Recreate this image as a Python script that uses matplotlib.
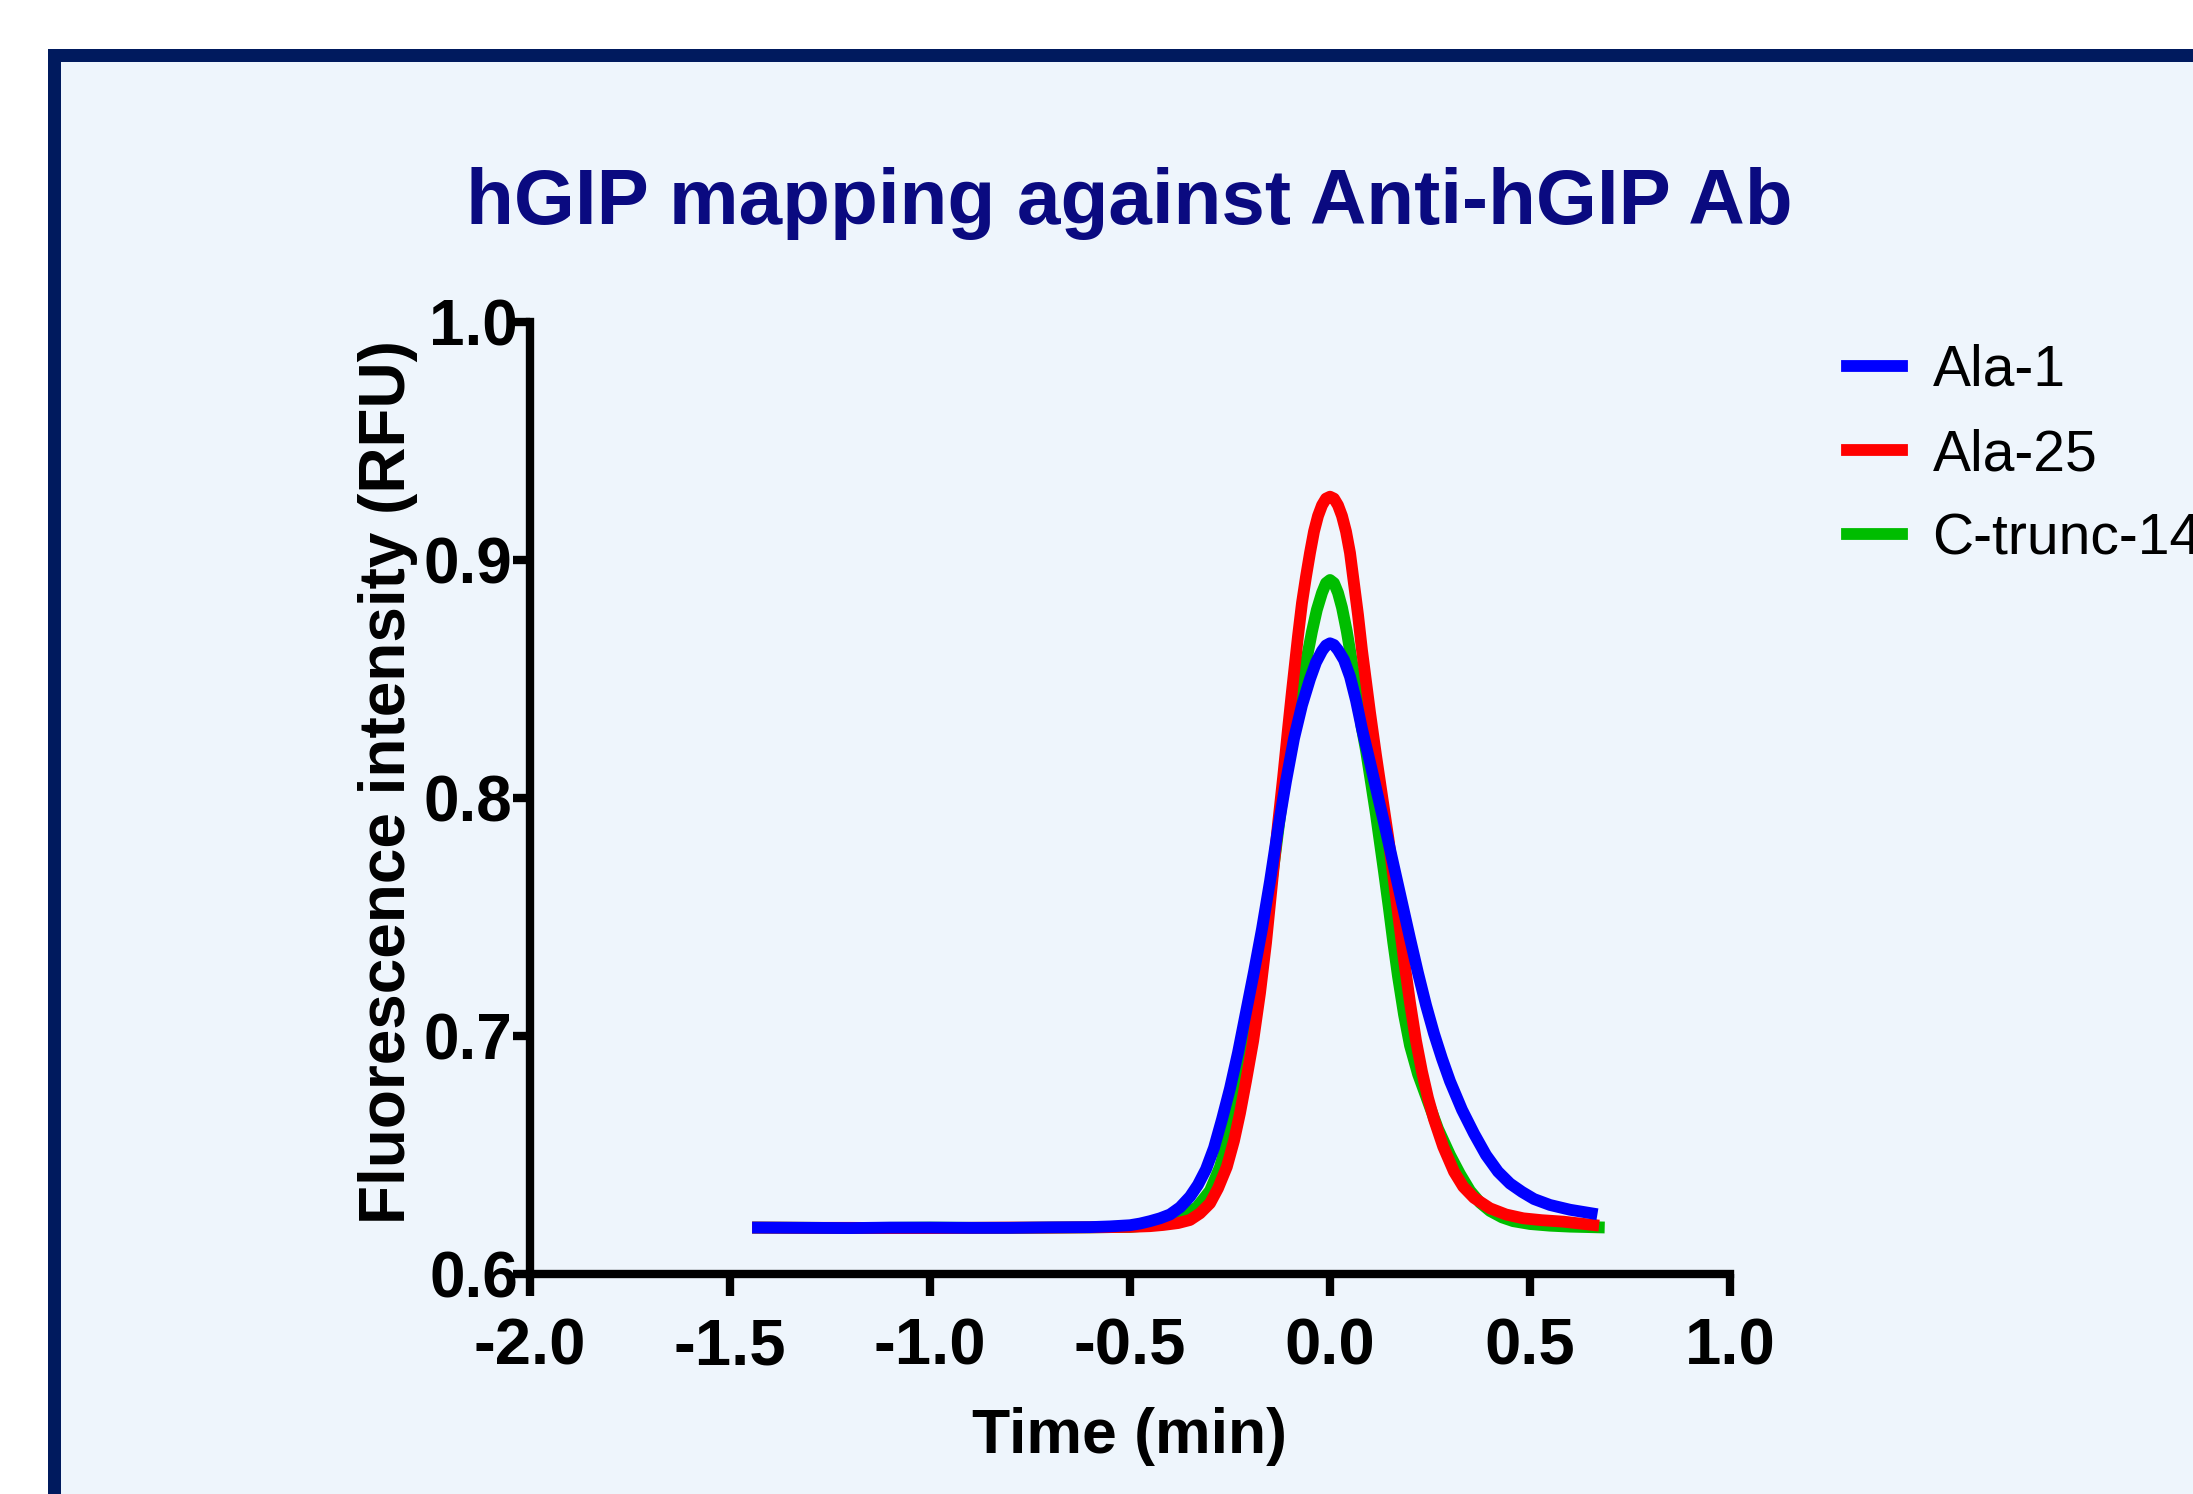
import matplotlib
matplotlib.use("Agg")
import matplotlib.pyplot as plt
import matplotlib.lines as mlines
from matplotlib.patches import Rectangle

plt.rcParams["font.family"] = ["Liberation Sans", "DejaVu Sans"]

# Data (time in min, fluorescence in RFU)
ala1_t = [-1.43, -1.3, -1.2, -1.1, -1.0, -0.9, -0.8, -0.7, -0.6, -0.55,
          -0.5, -0.475, -0.45, -0.425, -0.40, -0.375, -0.35, -0.33, -0.31, -0.29,
          -0.27, -0.25, -0.23, -0.21, -0.19, -0.17, -0.15, -0.13, -0.11, -0.09,
          -0.07, -0.05, -0.035, -0.02, -0.01, 0.0, 0.01, 0.02, 0.035, 0.05,
          0.065, 0.08, 0.10, 0.12, 0.14, 0.16, 0.18, 0.20, 0.22, 0.24,
          0.26, 0.28, 0.30, 0.33, 0.36, 0.39, 0.42, 0.45, 0.48, 0.51,
          0.55, 0.60, 0.654]
ala1_rfu = [0.6195, 0.6194, 0.6193, 0.6195, 0.6195, 0.6194, 0.6194, 0.6196, 0.6197, 0.6200,
            0.6205, 0.6212, 0.6222, 0.6234, 0.6250, 0.6280, 0.6325, 0.6375, 0.6440, 0.6530,
            0.6650, 0.6780, 0.6930, 0.7100, 0.7270, 0.7450, 0.7650, 0.7870, 0.8070, 0.8250,
            0.8390, 0.8500, 0.8570, 0.8618, 0.8641, 0.8650, 0.8643, 0.8622, 0.8580, 0.8510,
            0.8410, 0.8290, 0.8150, 0.8005, 0.7860, 0.7710, 0.7560, 0.7410, 0.7265, 0.7130,
            0.7010, 0.6905, 0.6810, 0.6690, 0.6590, 0.6500, 0.6430, 0.6380, 0.6345, 0.6315,
            0.6290, 0.6270, 0.6255]

ala25_t = [-1.43, -1.3, -1.2, -1.1, -1.0, -0.9, -0.8, -0.7, -0.6, -0.5,
           -0.45, -0.417, -0.38, -0.35, -0.325, -0.30, -0.28, -0.258, -0.24, -0.225,
           -0.21, -0.192, -0.175, -0.16, -0.142, -0.13, -0.117, -0.105, -0.095, -0.08,
           -0.07, -0.06, -0.05, -0.04, -0.03, -0.02, -0.01, 0.0, 0.01, 0.02,
           0.03, 0.04, 0.05, 0.06, 0.07, 0.08, 0.09, 0.10, 0.115, 0.13,
           0.146, 0.16, 0.172, 0.185, 0.20, 0.215, 0.23, 0.245, 0.26, 0.283,
           0.31, 0.333, 0.36, 0.40, 0.44, 0.483, 0.53, 0.583, 0.62, 0.658]
ala25_rfu = [0.6195, 0.6194, 0.6194, 0.6193, 0.6193, 0.6194, 0.6195, 0.6195, 0.6196, 0.6198,
             0.6201, 0.6206, 0.6214, 0.6227, 0.6255, 0.6297, 0.6360, 0.6450, 0.6560, 0.6676,
             0.6810, 0.6980, 0.7180, 0.7390, 0.7690, 0.7890, 0.8090, 0.8290, 0.8450, 0.8680,
             0.8820, 0.8930, 0.9030, 0.9120, 0.9185, 0.9230, 0.9258, 0.9266, 0.9258, 0.9230,
             0.9185, 0.9120, 0.9030, 0.8900, 0.8770, 0.8620, 0.8490, 0.8360, 0.8180, 0.8010,
             0.7830, 0.7650, 0.7490, 0.7320, 0.7140, 0.6980, 0.6850, 0.6740, 0.6650, 0.6535,
             0.6430, 0.6367, 0.6320, 0.6276, 0.6250, 0.6234, 0.6226, 0.6220, 0.6213, 0.6206]

ctrunc14_t = [-1.43, -1.3, -1.2, -1.1, -1.0, -0.9, -0.8, -0.7, -0.6, -0.5,
              -0.45, -0.40, -0.365, -0.333, -0.30, -0.275, -0.258, -0.242, -0.225, -0.21,
              -0.19, -0.167, -0.15, -0.135, -0.12, -0.105, -0.09, -0.075, -0.06, -0.045,
              -0.033, -0.02, -0.01, 0.0, 0.01, 0.02, 0.03, 0.042, 0.054, 0.067,
              0.079, 0.09, 0.104, 0.115, 0.125, 0.135, 0.147, 0.158, 0.17, 0.185,
              0.20, 0.22, 0.246, 0.27, 0.30, 0.325, 0.35, 0.375, 0.40, 0.43,
              0.458, 0.50, 0.55, 0.60, 0.672]
ctrunc14_rfu = [0.6195, 0.6194, 0.6193, 0.6194, 0.6195, 0.6194, 0.6194, 0.6195, 0.6196, 0.6198,
                0.6205, 0.6227, 0.6250, 0.6280, 0.6350, 0.6450, 0.6550, 0.6676, 0.6810, 0.6940,
                0.7130, 0.7400, 0.7600, 0.7790, 0.7990, 0.8160, 0.8300, 0.8430, 0.8570, 0.8700,
                0.8790, 0.8862, 0.8903, 0.8916, 0.8903, 0.8862, 0.8800, 0.8700, 0.8580, 0.8450,
                0.8300, 0.8200, 0.8050, 0.7930, 0.7810, 0.7690, 0.7540, 0.7395, 0.7250, 0.7090,
                0.6960, 0.6840, 0.6720, 0.6610, 0.6500, 0.6420, 0.6350, 0.6300, 0.6265, 0.6238,
                0.6222, 0.6210, 0.6203, 0.6199, 0.6196]

x_ticks = [-2.0, -1.5, -1.0, -0.5, 0.0, 0.5, 1.0]
y_ticks = [0.6, 0.7, 0.8, 0.9, 1.0]

W, H = 2193, 1494
fig = plt.figure(figsize=(W / 100, H / 100), dpi=100, facecolor="white")

# panel frame (navy border, pale blue fill), continues past the crop
fig.add_artist(Rectangle((48 / W, -0.1), 1.2, 1 - 49 / H + 0.1, transform=fig.transFigure,
                         facecolor="#001a5e", edgecolor="none", zorder=-2))
fig.add_artist(Rectangle((61 / W, -0.1), 1.2, 1 - 62 / H + 0.1, transform=fig.transFigure,
                         facecolor="#eef5fc", edgecolor="none", zorder=-1))

ax = fig.add_axes([530 / W, 1 - 1274 / H, 1200 / W, 952 / H])
ax.set_facecolor("none")

lw = 8.5
l_green, = ax.plot(ctrunc14_t, ctrunc14_rfu, color="#00bd00", lw=lw, zorder=2,
                   solid_joinstyle="round", label="C-trunc-14")
l_red, = ax.plot(ala25_t, ala25_rfu, color="#ff0000", lw=lw, zorder=3,
                 solid_joinstyle="round", label="Ala-25")
l_blue, = ax.plot(ala1_t, ala1_rfu, color="#0000ff", lw=lw, zorder=4,
                  solid_joinstyle="round", label="Ala-1")

ax.set_xlim(-2.0, 1.0)
ax.set_ylim(0.6, 1.0)
ax.set_xticks(x_ticks)
ax.set_yticks(y_ticks)
ax.set_xticklabels([f"{v:.1f}" for v in x_ticks])
ax.set_yticklabels([f"{v:.1f}" for v in y_ticks])

for s in ["top", "right"]:
    ax.spines[s].set_visible(False)
for s in ["left", "bottom"]:
    ax.spines[s].set_linewidth(6)
    ax.spines[s].set_capstyle("projecting")

ax.tick_params(axis="x", direction="out", length=16, width=6, pad=15,
               labelsize=47)
ax.tick_params(axis="y", direction="out", length=12, width=6, pad=1,
               labelsize=46)
for lab in ax.get_xticklabels() + ax.get_yticklabels():
    lab.set_fontweight("bold")

# end ticks of the y axis point inward, labels sit closer
yt = ax.yaxis.get_major_ticks()
for t in (yt[0], yt[-1]):
    t.tick1line.set_marker(mlines.TICKRIGHT)
    t.tick1line.set_markersize(16)
    t.set_pad(-3.4)

ax.set_xlabel("Time (min)", fontsize=45, fontweight="bold", va="center")
ax.xaxis.set_label_coords(0.5, -0.171)
ax.set_ylabel("Fluorescence intensity (RFU)", fontsize=46, fontweight="bold", va="center")
ax.yaxis.set_label_coords(-0.1185, 0.517)

fig.text(1129 / W, 1 - 224 / H, "hGIP mapping against Anti-hGIP Ab", ha="center",
         va="baseline", fontsize=56.3, fontweight="bold", color="#0a0a80")

fig.legend(handles=[l_blue, l_red, l_green], loc="upper left",
           bbox_to_anchor=(1847 / W, 1 - 344 / H), frameon=False, fontsize=41,
           borderpad=0, borderaxespad=0, handlelength=0.97, handletextpad=0.53,
           labelspacing=0.53)

fig.savefig("out.png", dpi=100, facecolor="white")
